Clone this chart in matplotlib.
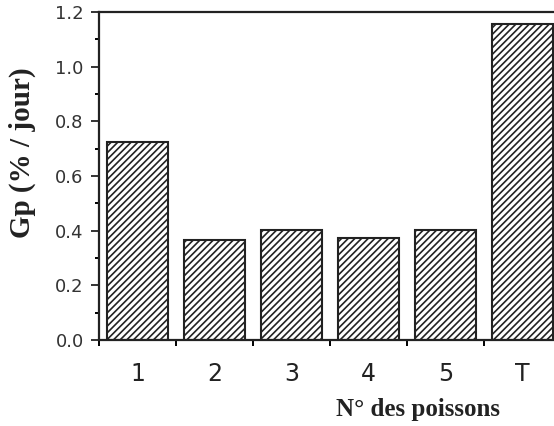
import numpy as np
import matplotlib
matplotlib.use("Agg")
from matplotlib import pyplot as plt
from matplotlib.ticker import MultipleLocator, FixedLocator, FormatStrFormatter

categories = ["1", "2", "3", "4", "5", "T"]
gp_values = [0.723, 0.367, 0.404, 0.374, 0.404, 1.155]

plt.rcParams['hatch.linewidth'] = 1.2
plt.rcParams['font.family'] = ['DejaVu Sans']
fig = plt.figure(figsize=(5.54, 4.26), dpi=100)
ax = fig.add_axes([0.1787, 0.2019, 1.0 - 0.1787, 0.9718 - 0.2019])

x = np.arange(len(categories))
ax.bar(x, gp_values, width=0.79, color="white", edgecolor="#222222",
       linewidth=1.5, hatch="/////")

ax.set_xlim(-0.5, 5.41)
ax.set_ylim(0, 1.2)
ax.spines["right"].set_visible(False)
for s in ["left", "bottom", "top"]:
    ax.spines[s].set_linewidth(1.6)
    ax.spines[s].set_color("#222222")

ax.yaxis.set_major_locator(MultipleLocator(0.2))
ax.yaxis.set_minor_locator(MultipleLocator(0.1))
ax.yaxis.set_major_formatter(FormatStrFormatter("%.1f"))
ax.tick_params(axis="y", which="major", direction="out", length=6, width=1.4,
               labelsize=13, pad=5, colors="#333333")
ax.tick_params(axis="y", which="minor", direction="out", length=3, width=1.4)

ax.set_xticks(x)
ax.set_xticklabels(categories)
ax.xaxis.set_minor_locator(FixedLocator(np.arange(-0.5, 5.0, 1.0)))
ax.tick_params(axis="x", which="major", length=0, labelsize=17, pad=16,
               colors="#222222")
ax.tick_params(axis="x", which="minor", direction="out", length=4, width=1.4)

fig.text(0.04, 0.641, "Gp (% / jour)", family="Liberation Serif",
         fontweight="bold", fontsize=21, rotation=90, ha="center",
         va="center", color="#222222")
fig.text(0.755, 0.038, "N° des poissons", family="Liberation Serif",
         fontweight="bold", fontsize=18, ha="center", va="center",
         color="#222222")

fig.savefig("out.png", dpi=100)
